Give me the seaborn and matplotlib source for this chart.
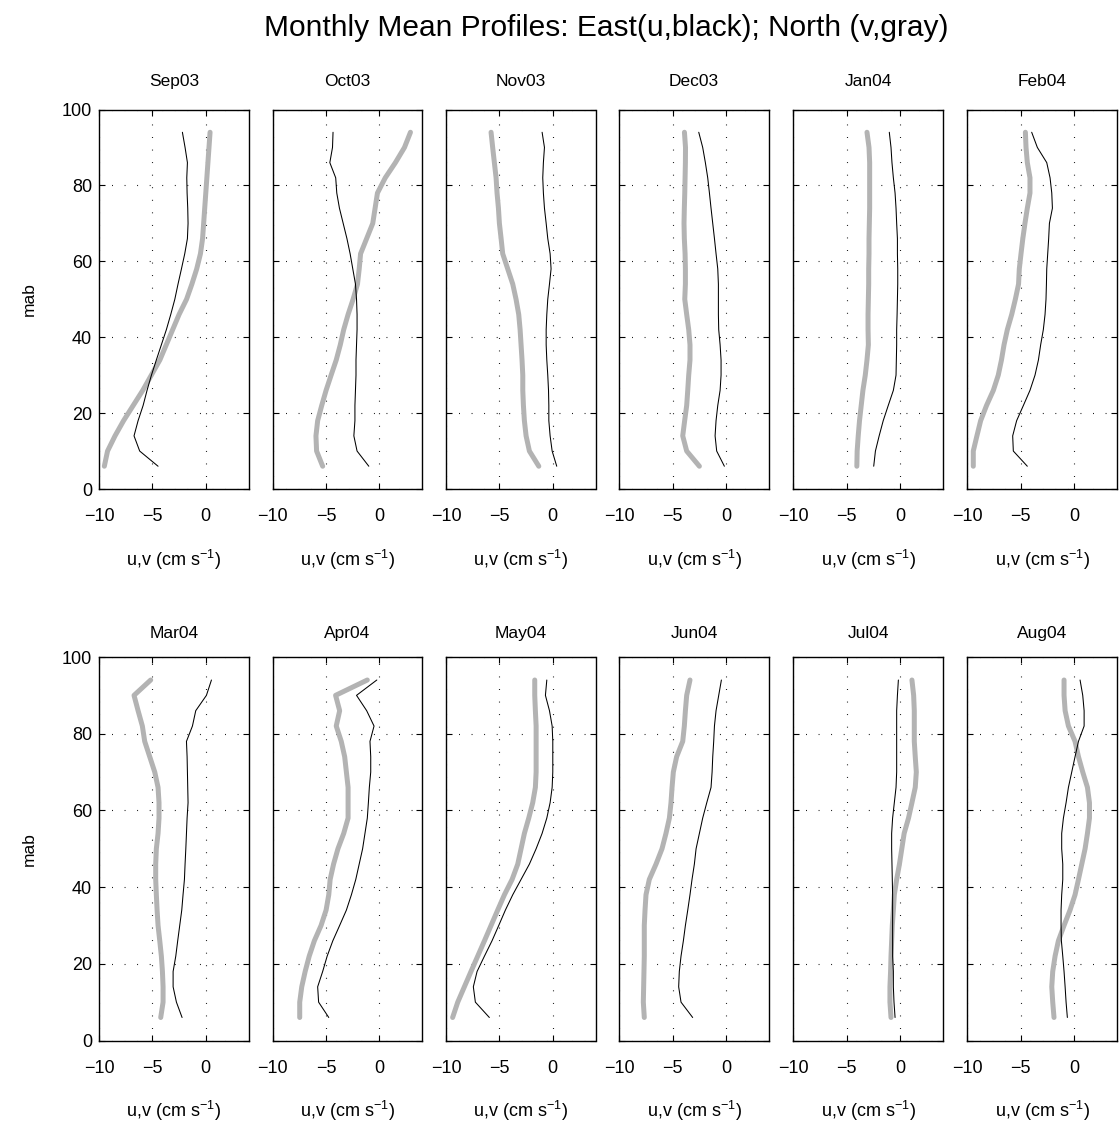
import numpy as np
import pandas as pd
import matplotlib
matplotlib.use("Agg")
import matplotlib.pyplot as plt
import seaborn as sns

sns.set_theme(style="white")
plt.rcParams['font.family'] = ['Liberation Sans', 'DejaVu Sans']
plt.rcParams['mathtext.fontset'] = 'custom'
plt.rcParams['mathtext.rm'] = 'Liberation Sans'
plt.rcParams['text.color'] = 'black'
plt.rcParams['axes.labelcolor'] = 'black'
plt.rcParams['xtick.color'] = 'black'
plt.rcParams['ytick.color'] = 'black'

months = ["Sep03", "Oct03", "Nov03", "Dec03", "Jan04", "Feb04",
          "Mar04", "Apr04", "May04", "Jun04", "Jul04", "Aug04"]

depth = [6, 10, 14, 18, 22, 26, 30, 34, 38, 42, 46, 50, 54, 58, 62, 66, 70, 74, 78, 82, 86, 90, 94]

u_sep03 = [-4.47, -6.19, -6.72, -6.34, -5.87, -5.5, -5.09, -4.63, -4.16, -3.69, -3.28, -2.9, -2.6, -2.28, -1.97, -1.72, -1.66, -1.69, -1.75, -1.78, -1.72, -1.94, -2.19]
v_sep03 = [-9.5, -9.2, -8.5, -7.7, -6.8, -5.9, -5.1, -4.3, -3.7, -3.1, -2.5, -1.8, -1.3, -0.85, -0.5, -0.3, -0.2, -0.1, 0.0, 0.1, 0.2, 0.3, 0.4]

u_oct03 = [-1.0, -2.1, -2.4, -2.3, -2.3, -2.25, -2.2, -2.2, -2.15, -2.1, -2.1, -2.15, -2.25, -2.5, -2.75, -3.05, -3.4, -3.75, -4.0, -4.1, -4.65, -4.4, -4.35]
v_oct03 = [-5.32, -5.89, -5.95, -5.79, -5.41, -5.0, -4.53, -4.05, -3.67, -3.35, -2.94, -2.47, -2.06, -1.9, -1.77, -1.2, -0.63, -0.41, -0.19, 0.54, 1.49, 2.34, 2.9]

u_nov03 = [0.37, -0.06, -0.25, -0.37, -0.37, -0.4, -0.47, -0.56, -0.62, -0.62, -0.56, -0.47, -0.31, -0.16, -0.25, -0.47, -0.62, -0.78, -0.88, -0.94, -0.88, -0.78, -1.0]
v_nov03 = [-1.31, -2.19, -2.5, -2.66, -2.75, -2.81, -2.81, -2.88, -2.97, -3.06, -3.19, -3.44, -3.75, -4.22, -4.69, -4.84, -5.0, -5.09, -5.22, -5.31, -5.47, -5.63, -5.78]

u_dec03 = [-0.16, -0.88, -1.03, -0.94, -0.78, -0.56, -0.47, -0.47, -0.56, -0.69, -0.72, -0.72, -0.72, -0.78, -0.94, -1.09, -1.25, -1.41, -1.56, -1.72, -1.94, -2.19, -2.56]
v_dec03 = [-2.5, -3.69, -4.06, -3.88, -3.69, -3.59, -3.5, -3.38, -3.38, -3.5, -3.69, -3.87, -3.81, -3.81, -3.84, -3.91, -3.94, -3.91, -3.87, -3.84, -3.81, -3.8, -3.9]

u_jan04 = [-2.47, -2.31, -1.96, -1.58, -1.11, -0.63, -0.38, -0.35, -0.32, -0.32, -0.28, -0.25, -0.22, -0.22, -0.25, -0.25, -0.32, -0.38, -0.47, -0.63, -0.76, -0.85, -1.01]
v_jan04 = [-4.05, -4.02, -3.92, -3.8, -3.64, -3.48, -3.26, -3.1, -2.97, -3.0, -3.0, -2.97, -2.94, -2.94, -2.91, -2.91, -2.88, -2.85, -2.85, -2.85, -2.85, -2.91, -3.1]

u_feb04 = [-4.38, -5.69, -5.75, -5.38, -4.75, -4.13, -3.66, -3.34, -3.13, -2.88, -2.72, -2.63, -2.59, -2.56, -2.47, -2.38, -2.31, -2.03, -2.09, -2.25, -2.56, -3.44, -3.97]
v_feb04 = [-9.44, -9.44, -9.1, -8.75, -8.2, -7.56, -7.1, -6.8, -6.56, -6.25, -5.84, -5.5, -5.2, -5.13, -4.97, -4.8, -4.6, -4.38, -4.13, -4.13, -4.38, -4.5, -4.56]

u_mar04 = [-2.22, -2.75, -3.06, -3.06, -2.81, -2.63, -2.44, -2.25, -2.13, -2.0, -1.94, -1.87, -1.81, -1.75, -1.66, -1.69, -1.72, -1.75, -1.81, -1.25, -0.94, 0.06, 0.53]
v_mar04 = [-4.22, -4.0, -4.0, -4.06, -4.16, -4.31, -4.47, -4.56, -4.63, -4.69, -4.69, -4.63, -4.47, -4.38, -4.38, -4.47, -4.78, -5.25, -5.72, -5.94, -6.34, -6.72, -5.16]

u_apr04 = [-4.75, -5.7, -5.79, -5.32, -4.9, -4.37, -3.73, -3.1, -2.63, -2.22, -1.9, -1.58, -1.36, -1.14, -1.04, -0.95, -0.82, -0.82, -0.89, -0.51, -1.2, -2.15, -0.25]
v_apr04 = [-7.47, -7.47, -7.28, -6.96, -6.58, -6.1, -5.47, -5.0, -4.75, -4.62, -4.3, -3.89, -3.35, -2.94, -2.94, -2.94, -3.1, -3.26, -3.58, -4.05, -3.73, -4.11, -1.14]

u_may04 = [-5.94, -7.25, -7.44, -7.09, -6.4, -5.69, -5.06, -4.44, -3.75, -2.97, -2.19, -1.56, -1.0, -0.56, -0.25, -0.06, 0.0, 0.0, 0.0, -0.06, -0.31, -0.69, -0.56]
v_may04 = [-9.38, -8.9, -8.28, -7.66, -7.03, -6.4, -5.78, -5.16, -4.53, -3.81, -3.28, -2.97, -2.66, -2.25, -1.88, -1.63, -1.56, -1.56, -1.56, -1.56, -1.63, -1.69, -1.69]

u_jun04 = [-3.13, -4.22, -4.44, -4.38, -4.22, -4.0, -3.81, -3.59, -3.38, -3.19, -2.97, -2.81, -2.5, -2.19, -1.81, -1.41, -1.31, -1.25, -1.16, -1.09, -0.94, -0.69, -0.44]
v_jun04 = [-7.66, -7.75, -7.72, -7.69, -7.66, -7.66, -7.66, -7.59, -7.5, -7.19, -6.56, -6.0, -5.63, -5.31, -5.16, -5.06, -4.94, -4.63, -4.06, -3.91, -3.81, -3.69, -3.38]

u_jul04 = [-0.47, -0.57, -0.63, -0.63, -0.7, -0.7, -0.7, -0.7, -0.7, -0.73, -0.76, -0.79, -0.79, -0.7, -0.54, -0.38, -0.32, -0.32, -0.32, -0.32, -0.32, -0.25, -0.16]
v_jul04 = [-0.85, -0.95, -0.95, -0.89, -0.85, -0.79, -0.73, -0.63, -0.54, -0.32, -0.06, 0.16, 0.38, 0.79, 1.11, 1.42, 1.52, 1.42, 1.33, 1.33, 1.33, 1.27, 1.11]

u_aug04 = [-0.63, -0.75, -0.84, -0.94, -1.06, -1.19, -1.22, -1.22, -1.16, -1.06, -1.06, -1.16, -1.16, -1.0, -0.75, -0.53, -0.22, 0.09, 0.41, 0.94, 0.94, 0.81, 0.56]
v_aug04 = [-1.88, -2.0, -2.09, -2.0, -1.78, -1.47, -0.94, -0.38, 0.09, 0.41, 0.72, 1.03, 1.25, 1.44, 1.44, 1.25, 0.81, 0.41, 0.09, -0.53, -0.84, -0.94, -0.94]

u_all = [u_sep03, u_oct03, u_nov03, u_dec03, u_jan04, u_feb04,
         u_mar04, u_apr04, u_may04, u_jun04, u_jul04, u_aug04]
v_all = [v_sep03, v_oct03, v_nov03, v_dec03, v_jan04, v_feb04,
         v_mar04, v_apr04, v_may04, v_jun04, v_jul04, v_aug04]

xticks = [-10, -5, 0]
xticklabels = ["\u221210", "\u22125", "0"]
yticks = [0, 20, 40, 60, 80, 100]

W, H = 1119, 1124
fig = plt.figure(figsize=(W / 100, H / 100), dpi=100)
fig.patch.set_facecolor("white")

lefts = [99, 272.7, 446, 619.3, 793.3, 967.3]
axw = 149.5
rows = [(109.5, 489.0), (657.0, 1040.5)]

for i, m in enumerate(months):
    r, c = divmod(i, 6)
    top, bot = rows[r]
    ax = fig.add_axes([lefts[c] / W, 1 - bot / H, axw / W, (bot - top) / H])
    df = pd.DataFrame({"depth": depth, "u": u_all[i], "v": v_all[i]})
    sns.lineplot(data=df, x="v", y="depth", sort=False, estimator=None,
                 color="#b3b3b3", linewidth=3.6, ax=ax, zorder=3)
    sns.lineplot(data=df, x="u", y="depth", sort=False, estimator=None,
                 color="black", linewidth=0.75, ax=ax, zorder=4)
    ax.set_xlim(-10, 4)
    ax.set_ylim(0, 100)
    ax.set_xticks(xticks)
    ax.set_yticks(yticks)
    ax.set_xticklabels(xticklabels)
    ax.grid(True, color="black", linestyle=(0, (0.8, 10.5)), linewidth=0.8)
    ax.tick_params(direction="in", length=4.5, width=0.8, top=True, right=True,
                   bottom=True, left=True, labelsize=13, colors="black")
    ax.tick_params(axis="x", pad=14)
    ax.tick_params(axis="y", pad=5)
    for s in ax.spines.values():
        s.set_visible(True)
        s.set_color("black")
        s.set_linewidth(1.0)
    ax.set_title(m, fontsize=12.5, pad=17 if r == 0 else 14, color="black")
    ax.set_xlabel("u,v (cm s$^{-1}$)", fontsize=13, labelpad=16)
    if c == 0:
        ax.set_ylabel("mab", fontsize=12.5, labelpad=18)
    else:
        ax.set_ylabel("")
        ax.set_yticklabels([])

fig.text(606 / W, 1 - 28 / H, "Monthly Mean Profiles: East(u,black); North (v,gray)",
         ha="center", va="center", fontsize=21.5, color="black")

fig.savefig("out.png", dpi=100, facecolor="white")
